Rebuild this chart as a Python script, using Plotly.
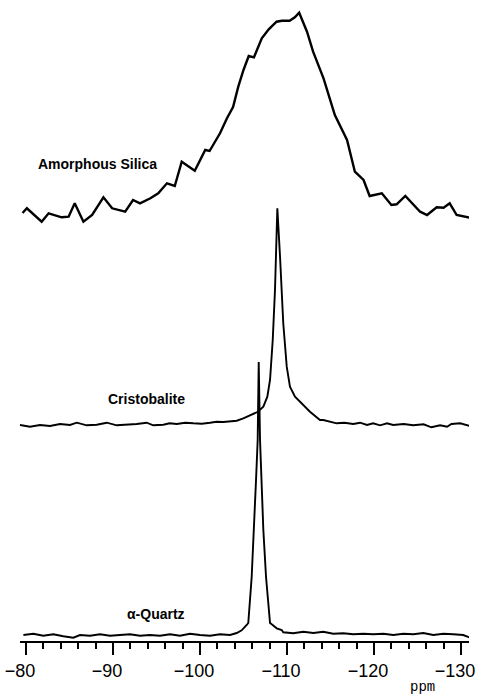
import plotly.graph_objects as go

# 29Si MAS NMR spectra of three SiO2 polymorphs (chemical shift in ppm)

amorphous_ppm = [-79.6, -80.1, -81.8, -82.6, -84.1, -84.9, -85.6, -86.6, -87.6, -88.9,
                 -89.9, -91.4, -92.3, -93.1, -94.3, -95.2, -96.2, -97.1, -97.9, -99.4,
                 -100.6, -101.1, -102.3, -103.1, -103.8, -104.4, -105.0, -105.6, -106.2, -107.1,
                 -107.9, -108.8, -109.4, -110.3, -110.9, -111.4, -112.3, -113.0, -114.2, -115.5,
                 -116.9, -117.8, -118.8, -119.5, -120.9, -122.0, -122.6, -123.6, -125.3, -126.1,
                 -127.2, -128.0, -128.7, -129.5, -131.0]
amorphous_int = [0, 4.7, -8.7, -0.3, -4.3, -3.7, 9.7, -8.7, -2, 15.7,
                 4.7, 1.3, 13, 9.7, 14.7, 19.7, 29.7, 27, 51.3, 42.3,
                 63, 62, 79.7, 94.7, 106, 126.3, 143, 157, 155.7, 174.7,
                 183.7, 191.3, 192.3, 192.3, 195.7, 200.3, 181.3, 161.3, 134.7, 98,
                 73, 41.3, 33, 17, 19.7, 8, 8.7, 17, 1.3, -2,
                 5.7, 5.3, 9.7, -2, -4.7]

cristobalite_ppm = [-79.31, -80.46, -81.61, -82.76, -83.91, -85.06, -85.83, -86.98, -88.13, -89.28,
                    -90.43, -91.57, -92.72, -93.87, -94.63, -95.78, -96.5, -97.32, -98.3, -99.23,
                    -100.2, -101.15, -101.9, -102.68, -103.5, -104.22, -104.98, -105.55, -105.94, -106.6,
                    -107.28, -107.74, -108.05, -108.36, -108.62, -108.89, -109.20, -109.57, -109.97, -110.34,
                    -110.92, -112.07, -112.64, -113.79, -114.17, -115.71, -116.6, -117.62, -118.40, -119.20,
                    -119.90, -120.70, -121.50, -122.20, -123.40, -124.50, -125.70, -126.60, -127.60, -128.40,
                    -128.90, -129.90, -131.00]
cristobalite_int = [0, -1.7, 0, -1, 1, 0, 2.3, -0.3, 0.3, 2.3,
                    -0.3, 0.3, 1, 2.3, -0.3, 0.3, 1.7, 1, 2.3, 1.7,
                    1.3, 2.3, 3.3, 3, 3.3, 4.3, 6.7, 9, 10, 13,
                    18.3, 28.3, 45, 85, 135, 216.7, 168.3, 101.7, 58.3, 38.3,
                    28.3, 18.3, 13.3, 5, 5, 1.7, 2.3, 1, 2.3, 0,
                    1.7, -0.3, 1.7, 0, 1, -0.3, 0.7, -2.3, -0.3, -1.7,
                    1, 1.7, -1]

quartz_ppm = [-79.70, -80.84, -81.99, -83.14, -84.29, -85.44, -86.21, -87.36, -88.51, -89.66,
              -90.80, -91.95, -93.10, -94.25, -95.40, -96.55, -97.70, -98.85, -100.00, -101.15,
              -102.30, -103.45, -104.22, -104.79, -105.37, -105.55, -105.94, -106.21, -106.44, -106.63,
              -106.75, -106.90, -107.09, -107.28, -107.59, -108.05, -108.24, -108.82, -109.39, -109.57,
              -110.72, -111.87, -113.02, -114.17, -115.32, -116.47, -117.62, -118.77, -119.92, -121.07,
              -122.22, -123.37, -124.52, -125.67, -126.82, -127.97, -129.11, -130.26, -131.03]
quartz_int = [1, 2.3, 0.3, 1.7, -0.3, -1.7, 1, 0.3, 1.7, 0.3,
              1, 1.7, 0.3, 1, 0.3, 1.7, 0.3, 2.3, 1, 0.3,
              1.7, 1, 3, 5.7, 11, 13, 59, 106, 156, 196,
              274, 196, 156, 106, 59, 13, 11.7, 7.7, 6, 3.7,
              2.7, 4.3, 3, 4.3, 2.3, 2.7, 1.7, 2.3, 1.7, 2.3,
              1, 2.3, 1.7, 3, 1, 2.3, 1.7, 1, -1.7]

tick_values = [-80, -90, -100, -110, -120, -130]
tick_labels = ["\u221280", "\u221290", "\u2212100", "\u2212110", "\u2212120", "\u2212130"]

# vertical stacking of the spectra
offsets = {"amorphous": 428, "cristobalite": 216, "quartz": 5}

fig = go.Figure()
for name, xs, ys, width in [
    ("amorphous", amorphous_ppm, amorphous_int, 2.4),
    ("cristobalite", cristobalite_ppm, cristobalite_int, 1.9),
    ("quartz", quartz_ppm, quartz_int, 1.9),
]:
    fig.add_trace(go.Scatter(
        x=xs, y=[v + offsets[name] for v in ys], mode="lines",
        line=dict(color="black", width=width, shape="linear"),
        hoverinfo="skip", showlegend=False,
    ))

label_font = dict(family="Liberation Sans, Arial, sans-serif", size=14, color="black")
for text, x, y in [
    ("<b>Amorphous Silica</b>", -88.2, 477),
    ("<b>Cristobalite</b>", -93.8, 242),
    ("<b>\u03b1-Quartz</b>", -94.9, 27),
]:
    fig.add_annotation(x=x, y=y, xref="x", yref="y", text=text, showarrow=False,
                       font=label_font, xanchor="center", yanchor="middle")

# unit label below the axis
fig.add_annotation(x=-125.6, y=-46 / 641, xref="x", yref="paper", text="ppm", showarrow=False,
                   font=dict(family="Liberation Mono, Courier New, monospace", size=14, color="black"),
                   xanchor="center", yanchor="middle")

fig.update_layout(
    width=480, height=698,
    margin=dict(l=0, r=0, t=0, b=57, pad=0),
    paper_bgcolor="white", plot_bgcolor="white",
    xaxis=dict(
        automargin=False,
        domain=[20 / 480, 469 / 480],
        range=[-79.31, -130.92],
        showgrid=False, zeroline=False,
        showline=True, linecolor="black", linewidth=2,
        tickmode="array", tickvals=tick_values, ticktext=tick_labels,
        ticks="outside", ticklen=12, tickwidth=2, tickcolor="black",
        ticklabeloverflow="allow", ticklabelshift=6,
        tickfont=dict(family="Liberation Sans, Arial, sans-serif", size=18, color="black"),
        minor=dict(dtick=2, tick0=-80, ticks="outside", ticklen=6, tickwidth=1.5,
                   tickcolor="black", showgrid=False),
    ),
    yaxis=dict(automargin=False, range=[0, 641], visible=False, showgrid=False, zeroline=False),
)

fig.write_html("out.html")
